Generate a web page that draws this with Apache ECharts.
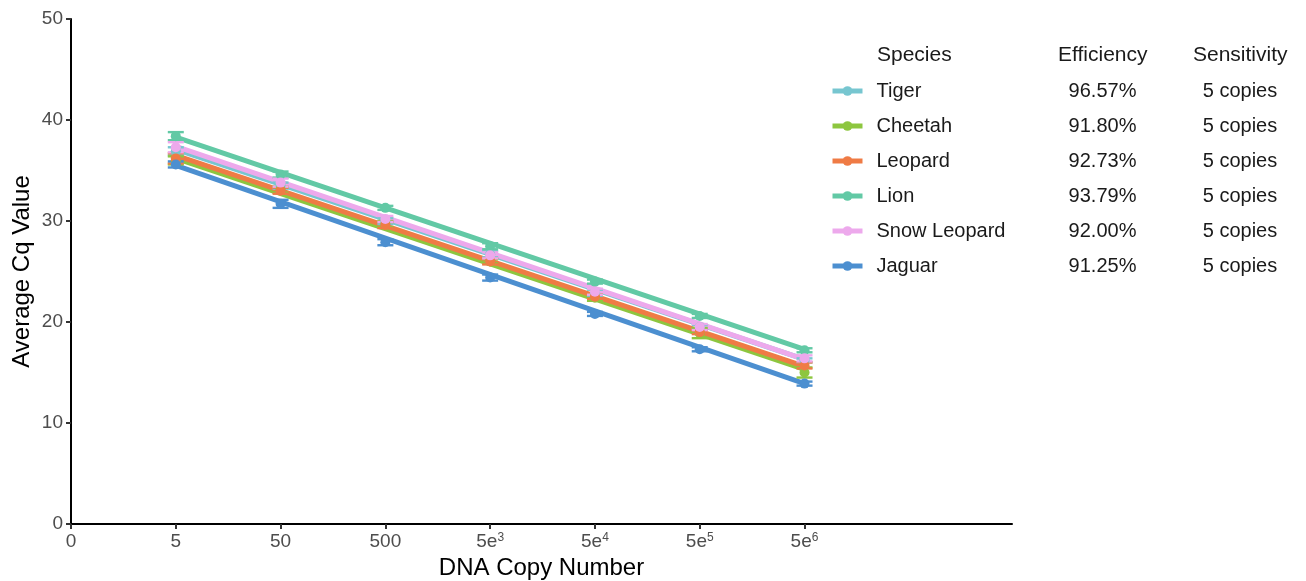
<!DOCTYPE html>
<html>
<head>
<meta charset="utf-8">
<script src="https://cdn.jsdelivr.net/npm/echarts@6/dist/echarts.min.js"></script>
<style>
html,body{margin:0;padding:0;background:#fff;}
#chart{width:1306px;height:581px;}
</style>
</head>
<body>
<div id="chart"></div>
<script>
const species = ['Tiger', 'Cheetah', 'Leopard', 'Lion', 'Snow Leopard', 'Jaguar'];
const efficiency = ['96.57%', '91.80%', '92.73%', '93.79%', '92.00%', '91.25%'];
const sensitivity = ['5 copies', '5 copies', '5 copies', '5 copies', '5 copies', '5 copies'];
const colors = ['#77C6D0', '#8DC63F', '#EF7B45', '#62C9A5', '#EDA9EC', '#4C8FD0'];

const xTickValues = [0, 1, 2, 3, 4, 5, 6, 7];
const xTickLabels = ['0', '5', '50', '500', '5e3', '5e4', '5e5', '5e6'];
const xPositions = [1, 2, 3, 4, 5, 6, 7];

const tigerMean = [36.9, 33.5, 30.0, 26.7, 22.9, 19.5, 16.2];
const tigerErr = [0.4, 0.3, 0.3, 0.3, 0.3, 0.2, 0.2];
const cheetahMean = [36.0, 33.1, 29.7, 26.0, 22.4, 18.9, 15.0];
const cheetahErr = [0.4, 0.3, 0.3, 0.2, 0.3, 0.5, 0.5];
const leopardMean = [36.2, 33.0, 29.6, 26.0, 22.5, 19.0, 15.7];
const leopardErr = [0.5, 0.3, 0.3, 0.3, 0.2, 0.2, 0.3];
const lionMean = [38.4, 34.6, 31.3, 27.5, 24.0, 20.6, 17.2];
const lionErr = [0.4, 0.3, 0.2, 0.3, 0.2, 0.2, 0.2];
const snowLeopardMean = [37.3, 33.8, 30.2, 26.6, 23.0, 19.5, 16.4];
const snowLeopardErr = [0.5, 0.4, 0.3, 0.3, 0.3, 0.3, 0.3];
const jaguarMean = [35.6, 31.7, 27.9, 24.4, 20.8, 17.3, 13.9];
const jaguarErr = [0.3, 0.4, 0.3, 0.3, 0.2, 0.2, 0.2];

// fitted regression line values at 5 copies and at 5e6 copies
const fitAt5 = [37.1, 36.2, 36.5, 38.3, 37.4, 35.5];
const fitAt5e6 = [16.3, 15.3, 15.6, 17.3, 16.3, 13.9];

const means = [tigerMean, cheetahMean, leopardMean, lionMean, snowLeopardMean, jaguarMean];
const errs = [tigerErr, cheetahErr, leopardErr, lionErr, snowLeopardErr, jaguarErr];

const FONT = '"Liberation Sans", Arial, Helvetica, sans-serif';

const series = [];
species.forEach((name, i) => {
  series.push({
    name: name,
    type: 'line',
    data: [[xPositions[0], fitAt5[i]], [xPositions[xPositions.length - 1], fitAt5e6[i]]],
    symbol: 'circle',
    symbolSize: 10,
    showSymbol: false,
    lineStyle: { color: colors[i], width: 5 },
    itemStyle: { color: colors[i] },
    z: 2,
    silent: true
  });
});
species.forEach((name, i) => {
  series.push({
    name: name + ' err',
    type: 'custom',
    data: xPositions.map((x, j) => [x, means[i][j] - errs[i][j], means[i][j] + errs[i][j]]),
    renderItem: function (params, api) {
      const x = api.value(0);
      const lo = api.coord([x, api.value(1)]);
      const hi = api.coord([x, api.value(2)]);
      const hw = 8;
      const style = { stroke: colors[i], lineWidth: 2.4, fill: null };
      return {
        type: 'group',
        children: [
          { type: 'line', shape: { x1: lo[0], y1: lo[1], x2: hi[0], y2: hi[1] }, style: style },
          { type: 'line', shape: { x1: lo[0] - hw, y1: lo[1], x2: lo[0] + hw, y2: lo[1] }, style: style },
          { type: 'line', shape: { x1: hi[0] - hw, y1: hi[1], x2: hi[0] + hw, y2: hi[1] }, style: style }
        ]
      };
    },
    z: 3,
    silent: true
  });
});
species.forEach((name, i) => {
  series.push({
    name: name + ' pts',
    type: 'scatter',
    data: xPositions.map((x, j) => [x, means[i][j]]),
    symbol: 'circle',
    symbolSize: 10,
    itemStyle: { color: colors[i], opacity: 1 },
    z: 4,
    silent: true
  });
});

const chart = echarts.init(document.getElementById('chart'), null, { renderer: 'canvas' });
chart.setOption({
  animation: false,
  backgroundColor: '#ffffff',
  textStyle: { fontFamily: FONT },
  grid: { left: 71, right: 294, top: 19, bottom: 57, containLabel: false, outerBoundsMode: 'none' },
  xAxis: {
    type: 'value',
    min: 0, max: 8.98, interval: 1,
    name: 'DNA Copy Number',
    nameLocation: 'middle',
    nameGap: 32,
    nameMoveOverlap: false,
    nameTextStyle: { fontSize: 24, color: '#000', fontFamily: FONT },
    splitLine: { show: false },
    axisLine: { show: true, onZero: false, lineStyle: { color: '#000', width: 2 } },
    axisTick: { show: true, length: 5, lineStyle: { color: '#333', width: 2 }, customValues: xTickValues },
    axisLabel: {
      fontSize: 19, color: '#4d4d4d', fontFamily: FONT, margin: 8,
      customValues: xTickValues,
      formatter: function (v) {
        const lab = xTickLabels[xTickValues.indexOf(v)];
        if (lab === undefined) return '';
        const m = lab.match(/^(\d)e(\d)$/);
        if (m) return m[1] + 'e{sup|' + m[2] + '}';
        return lab;
      },
      rich: { sup: { fontSize: 12, color: '#4d4d4d', verticalAlign: 'top', padding: [0, 0, 8, 0], fontFamily: FONT } }
    }
  },
  yAxis: {
    type: 'value',
    min: 0, max: 50, interval: 10,
    name: 'Average Cq Value',
    nameLocation: 'middle',
    nameGap: 37,
    nameMoveOverlap: false,
    nameRotate: 90,
    nameTextStyle: { fontSize: 24, color: '#000', fontFamily: FONT },
    splitLine: { show: false },
    axisLine: { show: true, lineStyle: { color: '#000', width: 2 } },
    axisTick: { show: true, length: 5, lineStyle: { color: '#333', width: 2 } },
    axisLabel: { fontSize: 19, color: '#4d4d4d', fontFamily: FONT, margin: 8 }
  },
  legend: {
    data: species,
    orient: 'vertical',
    left: 825,
    top: 76,
    padding: 5,
    itemWidth: 30,
    itemHeight: 12,
    itemGap: 15,
    selectedMode: false,
    lineStyle: { width: 5 },
    formatter: function (name) {
      const i = species.indexOf(name);
      return '{n|' + name + '}{e|' + efficiency[i] + '}{s|' + sensitivity[i] + '}';
    },
    textStyle: {
      fontSize: 20, color: '#1a1a1a', fontFamily: FONT,
      rich: {
        n: { fontSize: 20, width: 181, padding: [0, 0, 0, 9], color: '#1a1a1a', fontFamily: FONT, lineHeight: 20 },
        e: { fontSize: 20, width: 90, align: 'center', color: '#1a1a1a', fontFamily: FONT, lineHeight: 20 },
        s: { fontSize: 20, width: 95, align: 'center', padding: [0, 0, 0, 45], color: '#1a1a1a', fontFamily: FONT, lineHeight: 20 }
      }
    }
  },
  graphic: [
    { type: 'text', left: 877, top: 45, style: { text: 'Species', fontSize: 21, fill: '#1a1a1a', fontFamily: FONT } },
    { type: 'text', left: 1058, top: 45, style: { text: 'Efficiency', fontSize: 21, fill: '#1a1a1a', fontFamily: FONT } },
    { type: 'text', left: 1193, top: 45, style: { text: 'Sensitivity', fontSize: 21, fill: '#1a1a1a', fontFamily: FONT } }
  ],
  series: series
});
</script>
</body>
</html>
